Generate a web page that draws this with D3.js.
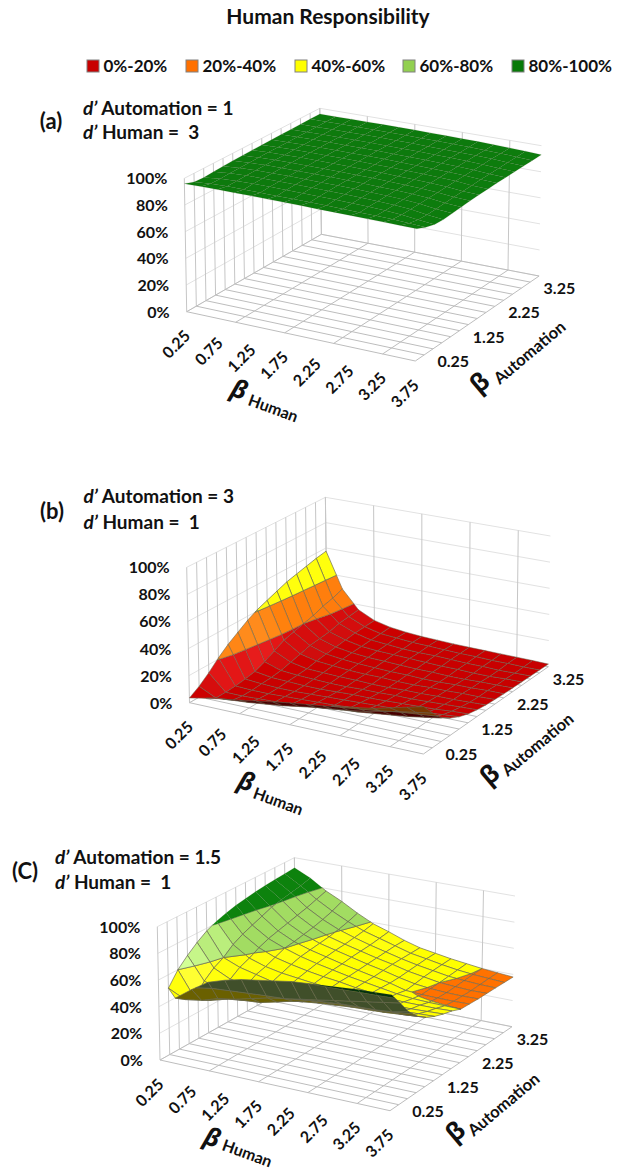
<!DOCTYPE html>
<html>
<head>
<meta charset="utf-8">
<title>Human Responsibility</title>
<script src="https://cdn.jsdelivr.net/npm/d3@7"></script>
<style>
  html, body { margin: 0; padding: 0; background: #fff; }
  text { font-family: Lato, "Open Sans", sans-serif; font-weight: 700; fill: #111; white-space: pre; }
</style>
</head>
<body>
<svg id="chart" width="634" height="1172">
  <defs><filter id="soft"><feGaussianBlur stdDeviation="0.35"></feGaussianBlur></filter></defs>
</svg>
<script>
// axes
var betaHuman = [0.25, 0.5, 0.75, 1, 1.25, 1.5, 1.75, 2, 2.25, 2.5, 2.75, 3, 3.25, 3.5, 3.75];
var betaAutomation = [0.25, 0.5, 0.75, 1, 1.25, 1.5, 1.75, 2, 2.25, 2.5, 2.75, 3, 3.25, 3.5, 3.75];
var humanLabels = [0.25, 0.75, 1.25, 1.75, 2.25, 2.75, 3.25, 3.75];
var automationLabels = [0.25, 1.25, 2.25, 3.25];
var percentTicks = [0, 20, 40, 60, 80, 100];
var bandNames = ["0%-20%", "20%-40%", "40%-60%", "60%-80%", "80%-100%"];
var bandEdges = [0, 20, 40, 60, 80, 100];

// responsibility %, one row per beta automation, one column per beta human
var respA = [
  [96, 96.2, 96.4, 96.5, 96.5, 96.5, 96.5, 96.5, 96.4, 96.4, 96.3, 96.2, 96.2, 96.1, 96],
  [93.5, 94.5, 95, 95, 95, 95, 95, 95, 95, 94.8, 94.6, 94.4, 94.2, 93.6, 93],
  [93, 94.5, 95.2, 95.4, 95.5, 95.5, 95.5, 95.4, 95.3, 95.1, 94.8, 94.4, 93.6, 92.2, 91],
  [93.5, 94.8, 95.4, 95.6, 95.7, 95.7, 95.6, 95.5, 95.4, 95.2, 94.8, 94.4, 93.5, 91.8, 90.5],
  [94, 95, 95.5, 95.7, 95.8, 95.8, 95.7, 95.6, 95.5, 95.2, 94.9, 94.4, 93.6, 92, 91],
  [94.3, 95.1, 95.6, 95.8, 95.8, 95.8, 95.7, 95.6, 95.5, 95.2, 94.9, 94.5, 93.7, 92.3, 91.5],
  [94.5, 95.2, 95.6, 95.8, 95.8, 95.8, 95.7, 95.6, 95.5, 95.2, 94.9, 94.5, 93.8, 92.6, 92],
  [94.7, 95.3, 95.6, 95.8, 95.8, 95.8, 95.7, 95.6, 95.5, 95.2, 94.9, 94.5, 93.9, 92.8, 92.3],
  [94.8, 95.3, 95.6, 95.7, 95.8, 95.8, 95.7, 95.6, 95.5, 95.2, 94.9, 94.6, 94, 93, 92.5],
  [95, 95.3, 95.6, 95.7, 95.8, 95.7, 95.7, 95.6, 95.4, 95.2, 94.9, 94.6, 94, 93.2, 92.7],
  [95.1, 95.4, 95.6, 95.7, 95.7, 95.7, 95.7, 95.5, 95.4, 95.2, 94.9, 94.6, 94.1, 93.3, 92.8],
  [95.2, 95.4, 95.6, 95.7, 95.7, 95.7, 95.6, 95.5, 95.4, 95.1, 94.9, 94.6, 94.1, 93.4, 92.9],
  [95.3, 95.4, 95.6, 95.6, 95.7, 95.7, 95.6, 95.5, 95.3, 95.1, 94.9, 94.6, 94.2, 93.5, 93],
  [95.4, 95.5, 95.6, 95.6, 95.7, 95.6, 95.6, 95.4, 95.3, 95.1, 94.9, 94.6, 94.2, 93.6, 93],
  [95.5, 95.5, 95.6, 95.6, 95.6, 95.6, 95.5, 95.4, 95.3, 95.1, 94.9, 94.6, 94.2, 93.7, 93]
];
var respB = [
  [3.5, 6, 8, 10, 12, 14, 16, 17.5, 19, 21, 23, 25, 28, 31, 34],
  [8, 2, 3, 4, 5.5, 7, 9, 11, 12.5, 14, 16, 18.5, 21, 23, 25],
  [14, 2, 2, 2.5, 3, 4, 5, 6, 7.5, 8.5, 10, 11.5, 13, 15, 17],
  [21, 2.5, 2, 2, 2.5, 3, 3.5, 4, 5, 6, 7, 8, 9, 11, 12.5],
  [27, 3.5, 2.5, 2, 2, 2.5, 3, 3.5, 4, 4.5, 5, 6, 7, 8, 9],
  [32, 5, 3, 2.5, 2, 2, 2.5, 3, 3, 3.5, 4, 4.5, 5, 6, 6.5],
  [37, 8, 4, 3, 2.5, 2, 2, 2.5, 2.5, 3, 3, 3.5, 4, 4.5, 5],
  [41, 12, 6, 3.5, 3, 2.5, 2.5, 2, 2, 2.5, 2.5, 3, 3, 3.5, 4],
  [44, 16, 8, 5, 4, 3, 2.5, 2.5, 2, 2, 2.5, 2.5, 3, 3, 3.5],
  [47, 18, 10, 6, 4.5, 3.5, 3, 2.5, 2.5, 2, 2, 2.5, 2.5, 3, 3],
  [50, 20, 11, 7, 5, 4, 3.5, 3, 2.5, 2.5, 2, 2, 2.5, 2.5, 2.8],
  [52, 22, 12, 8, 5.5, 4.5, 4, 3.5, 3, 2.5, 2.5, 2, 2, 2.5, 2.6],
  [54, 25, 14, 9, 6, 5, 4, 3.5, 3.5, 3, 2.5, 2.5, 2, 2.2, 2.4],
  [56, 27, 15, 9.5, 6.5, 5.5, 4.5, 4, 3.5, 3, 3, 2.5, 2.5, 2.2, 2.2],
  [57.5, 30, 16, 10, 7, 5.5, 4.5, 4, 3.5, 3.2, 3, 2.8, 2.6, 2.4, 2]
];
// the first point of (C) is missing in the original surface
var respC = [
  [null, 49, 58, 66, 70, 73, 75, 77, 79, 80, 81, 82, 83, 83.5, 84],
  [50, 44, 46, 50, 52, 55, 58, 60, 62, 64, 66, 68, 70, 72, 74],
  [60, 41, 42, 45.5, 47, 48, 51, 54, 57, 58, 59, 59.5, 60, 61, 63.5],
  [67, 50, 46, 46, 46, 47, 48, 49.5, 51, 52, 53, 53.5, 54, 55, 56],
  [73, 56, 50, 48, 47, 47, 47.5, 48, 48.5, 49, 49.5, 49.5, 50, 50, 51],
  [78, 60, 55, 52, 49, 48, 47.5, 47, 47, 46.5, 46, 46, 46.5, 47, 47.5],
  [81.5, 66, 58, 54, 51.5, 50, 48.5, 47.5, 46.5, 45.5, 44.5, 44, 44, 44.5, 45],
  [84, 70, 62, 57, 54, 51.5, 49.5, 48, 46, 44.5, 43, 42.5, 42.5, 42.5, 43],
  [86, 73, 65, 60, 56, 53, 50.5, 48, 46, 44, 42, 40.8, 40.3, 40.1, 40],
  [87.5, 76, 67, 61, 57, 54, 51, 48.5, 46, 43.5, 40.3, 39.5, 39.3, 39.2, 39.5],
  [88.8, 79, 69, 62.5, 58, 55, 52, 49, 46.5, 43.5, 41, 39.7, 39, 38.8, 39],
  [89.8, 81, 71, 64, 59, 55.5, 52.5, 49.5, 47, 44, 42, 40, 39.2, 38.6, 38.8],
  [90.6, 82.5, 73, 66, 60.5, 56.5, 53, 50, 47, 44.5, 42.5, 40.5, 39.5, 38.8, 38.6],
  [91.3, 84, 75.5, 68.5, 62.5, 57.5, 54, 50.5, 47, 45, 42.8, 41, 39.8, 39, 38.3],
  [92, 86, 78, 72, 65, 59, 55, 50.5, 47, 45, 43, 41.5, 40, 39, 38]
];

// colours: legend, lit side, underside, opacity of the grey mesh per band
var bandColors = ["#c80000", "#ff7000", "#ffff00", "#92d050", "#087a08"];
var litColors = ["#ff3030", "#ffa030", "#ffff30", "#d2ff96", "#0c9a0c"];
var underColors = ["#4a0505", "#7a3800", "#6b6000", "#3f4f2b", "#06300f"];
var meshOpacity = [0.6, 0.7, 0.85, 0.85, 0.18];

// box corners of the three panels (left, back, right, front on the floor; left, back, right on top)
var panels = [
  { letter: "(a)", letterPos: [51, 129], dAuto: "1", dHuman: "3", textX: 83, textY: [115, 139],
    floor: { L: [186.7, 311.7], B: [321.4, 234.3], R: [539.1, 276], F: [415.3, 361] },
    top: { L: [184.3, 178.3], B: [319.8, 108.3], R: [541.5, 145.7] },
    data: respA,
    betaH: [239, 390], human: [273, 409], betaA: [480, 383], auto: [530, 353] },
  { letter: "(b)", letterPos: [52, 519], dAuto: "3", dHuman: "1", textX: 83.5, textY: [503, 529],
    floor: { L: [189.5, 702.7], B: [327, 624], R: [548.4, 666.7], F: [423.4, 754] },
    top: { L: [186.7, 567.3], B: [325.4, 497.3], R: [550.4, 536] },
    data: respB,
    betaH: [246, 782], human: [278, 802], betaA: [490, 775], auto: [538, 745] },
  { letter: "(C)", letterPos: [25, 879], dAuto: "1.5", dHuman: "1", textX: 55, textY: [864, 889],
    floor: { L: [160, 1060], B: [296, 983.7], R: [512, 1026.7], F: [390, 1110.7] },
    top: { L: [157.3, 926.7], B: [294.4, 857.7], R: [515, 896] },
    data: respC,
    betaH: [212, 1138], human: [247, 1154], betaA: [455.6, 1132], auto: [504, 1105] }
];

var svg = d3.select("#chart");
var humanScale = d3.scaleLinear().domain([0.25, 3.75]).range([0, 1]);
var autoScale = d3.scaleLinear().domain([0.25, 3.75]).range([0, 1]);
var heightScale = d3.scaleLinear().domain([0, 100]).range([0, 1]);
var lineGen = d3.line();

// bilinear position inside the four corners of a face
function corner(f, u, v) {
  return [0, 1].map(function (i) {
    return f.L[i] * (1 - u) * (1 - v) + f.F[i] * u * (1 - v) + f.B[i] * (1 - u) * v + f.R[i] * u * v;
  });
}

function project(p, h, a, z) {
  var u = humanScale(h), v = autoScale(a), t = heightScale(z);
  var lo = corner(p.floor, u, v), hi = corner(p.top, u, v);
  return [lo[0] + (hi[0] - lo[0]) * t, lo[1] + (hi[1] - lo[1]) * t];
}

// keep the part of a polygon between two heights
function clipBand(pts, zMin, zMax) {
  function clip(list, inside, limit) {
    var out = [];
    list.forEach(function (q, i) {
      var n = list[(i + 1) % list.length];
      if (inside(q)) out.push(q);
      if (inside(q) !== inside(n)) {
        var k = (limit - q.z) / (n.z - q.z);
        out.push({ h: q.h + (n.h - q.h) * k, a: q.a + (n.a - q.a) * k, z: limit });
      }
    });
    return out;
  }
  var res = clip(pts, function (q) { return q.z >= zMin; }, zMin);
  if (res.length) res = clip(res, function (q) { return q.z <= zMax; }, zMax);
  return res;
}

function clamp01(x) {
  return Math.max(0, Math.min(1, x));
}

function drawPanel(p) {
  p.top.F = [
    p.floor.F[0] + (p.top.L[0] - p.floor.L[0]) + (p.top.R[0] - p.floor.R[0]) - (p.top.B[0] - p.floor.B[0]),
    p.floor.F[1] + (p.top.L[1] - p.floor.L[1]) + (p.top.R[1] - p.floor.R[1]) - (p.top.B[1] - p.floor.B[1])
  ];
  var g = svg.append("g");
  var first = betaHuman[0], lastH = betaHuman[14], lastA = betaAutomation[14];

  function wallLine(a, color) {
    var d = lineGen(a.map(function (q) { return project(p, q[0], q[1], q[2]); }));
    g.append("path").attr("d", d).attr("fill", "none").attr("stroke", color).attr("stroke-width", 1);
  }

  // left wall and right wall
  percentTicks.forEach(function (t) {
    wallLine([[first, first, t], [first, lastA, t]], "#e2e2e2");
    wallLine([[first, lastA, t], [lastH, lastA, t]], "#e2e2e2");
  });
  betaAutomation.forEach(function (a) {
    wallLine([[first, a, 0], [first, a, 100]], "#c6c6c6");
  });
  betaHuman.forEach(function (h, i) {
    if (i % 3 === 0) wallLine([[h, lastA, 0], [h, lastA, 100]], "#c6c6c6");
  });
  // floor
  betaAutomation.forEach(function (a) {
    wallLine([[first, a, 0], [lastH, a, 0]], "#bdbdbd");
  });
  betaHuman.forEach(function (h, i) {
    if (i % 3 === 0 || i === 14) wallLine([[h, first, 0], [h, lastA, 0]], "#bdbdbd");
  });

  // surface, back to front
  var polys = [];
  d3.range(13, -1, -1).forEach(function (r) {
    d3.range(0, 14).forEach(function (c) {
      var quad = [[c, r], [c + 1, r], [c + 1, r + 1], [c, r + 1]]
        .filter(function (q) { return p.data[q[1]][q[0]] !== null; })
        .map(function (q) { return { h: betaHuman[q[0]], a: betaAutomation[q[1]], z: p.data[q[1]][q[0]] }; });
      var outline = quad.map(function (q) { return project(p, q.h, q.a, q.z); });
      var under = d3.polygonArea(outline) < 0;
      // facets falling along beta human and rising along beta automation catch the light
      var drop = 0, rise = 0;
      if (quad.length === 4) {
        drop = ((quad[0].z + quad[3].z) - (quad[1].z + quad[2].z)) / 2;
        rise = ((quad[2].z + quad[3].z) - (quad[0].z + quad[1].z)) / 2;
      }
      var lit = Math.max(clamp01(drop / 18) * clamp01(rise / 7), 0.25 * clamp01(drop / 6));
      d3.range(0, 5).forEach(function (b) {
        var part = clipBand(quad, bandEdges[b], bandEdges[b + 1]);
        if (part.length > 2) {
          polys.push({
            d: lineGen(part.map(function (q) { return project(p, q.h, q.a, q.z); })) + "Z",
            color: under ? underColors[b] : d3.interpolateRgb(bandColors[b], litColors[b])(lit),
            band: b
          });
        }
      });
    });
  });

  // the stroke of each band piece gives both the mesh and the contour lines
  g.append("g").attr("filter", "url(#soft)").selectAll("path").data(polys).join("path")
    .attr("d", function (d) { return d.d; })
    .attr("fill", function (d) { return d.color; })
    .attr("stroke", "#666650")
    .attr("stroke-width", 0.8)
    .attr("stroke-opacity", function (d) { return meshOpacity[d.band]; })
    .attr("stroke-linejoin", "round");

  // tick labels
  g.append("g").selectAll("text").data(percentTicks).join("text")
    .attr("x", function (d) { return project(p, first, first, d)[0] - 17; })
    .attr("y", function (d) { return project(p, first, first, d)[1] + 6; })
    .attr("text-anchor", "end")
    .attr("font-size", 16)
    .text(function (d) { return d + "%"; });

  g.append("g").selectAll("text").data(humanLabels).join("text")
    .attr("text-anchor", "middle")
    .attr("font-size", 16)
    .attr("transform", function (d) {
      var q = project(p, d, first, 0);
      return "translate(" + (q[0] - 10) + "," + (q[1] + 33) + ") rotate(-45) translate(0,5)";
    })
    .text(function (d) { return d.toFixed(2); });

  g.append("g").selectAll("text").data(automationLabels).join("text")
    .attr("text-anchor", "middle")
    .attr("font-size", 16)
    .attr("x", function (d) { return project(p, lastH, d, 0)[0] + 38; })
    .attr("y", function (d) { return project(p, lastH, d, 0)[1] + 6; })
    .text(function (d) { return d.toFixed(2); });

  // axis titles
  g.append("text").attr("text-anchor", "middle").attr("font-size", 25).attr("font-style", "italic")
    .style("font-family", "'Open Sans', sans-serif")
    .attr("transform", "translate(" + p.betaH + ") rotate(18) translate(0,8)")
    .text("β");
  g.append("text").attr("text-anchor", "middle").attr("font-size", 16)
    .attr("transform", "translate(" + p.human + ") rotate(20) translate(0,5)")
    .text("Human");
  g.append("text").attr("text-anchor", "middle").attr("font-size", 25)
    .style("font-family", "'Open Sans', sans-serif")
    .attr("transform", "translate(" + p.betaA + ") rotate(-40) translate(0,8)")
    .text("β");
  g.append("text").attr("text-anchor", "middle").attr("font-size", 16.5)
    .attr("transform", "translate(" + p.auto + ") rotate(-40) translate(0,5)")
    .text("Automation");

  // panel notes
  g.append("text").attr("x", p.letterPos[0]).attr("y", p.letterPos[1])
    .attr("text-anchor", "middle").attr("font-size", 22).text(p.letter);
  [" Automation = " + p.dAuto, " Human =  " + p.dHuman].forEach(function (s, i) {
    var t = g.append("text").attr("x", p.textX).attr("y", p.textY[i]).attr("font-size", 19);
    t.append("tspan").attr("font-style", "italic").text("d’");
    t.append("tspan").text(s);
  });
}

panels.forEach(drawPanel);

// title
svg.append("text").attr("x", 328).attr("y", 24).attr("text-anchor", "middle")
  .attr("font-size", 21).text("Human Responsibility");

// legend
var legendX = [87, 186, 295, 403, 512];
var legend = svg.append("g").selectAll("g").data(bandNames).join("g")
  .attr("transform", function (d, i) { return "translate(" + legendX[i] + ",60)"; });
legend.append("rect").attr("width", 12).attr("height", 12)
  .attr("fill", function (d, i) { return bandColors[i]; })
  .attr("stroke", "#808080").attr("stroke-width", 1);
legend.append("text").attr("x", 16.5).attr("y", 12).attr("font-size", 17)
  .text(function (d) { return d; });
</script>
</body>
</html>
